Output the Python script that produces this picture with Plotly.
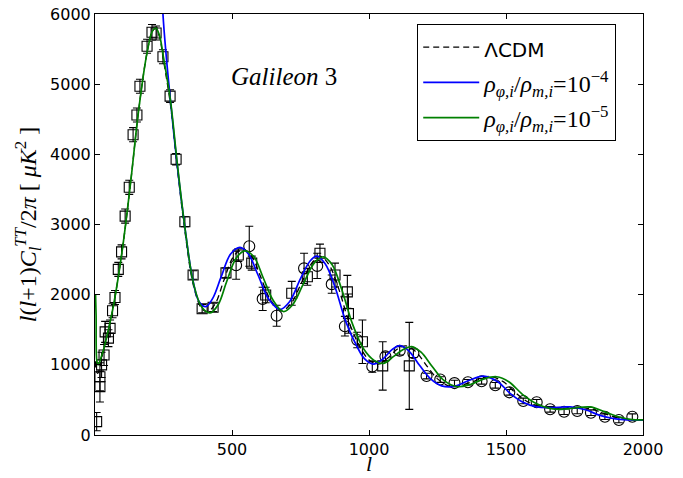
import plotly.graph_objects as go

# ---- theory curves ----
l_lcdm = [2, 5, 10, 20, 30, 50, 70, 100, 130, 160, 190, 210, 222, 235, 250, 275, 300, 330, 360, 390, 412, 440, 470, 505, 538, 570, 605, 640, 680, 715, 755, 795, 820, 852, 888, 928, 968, 1000, 1035, 1070, 1105, 1135, 1170, 1210, 1250, 1290, 1315, 1380, 1440, 1490, 1535, 1585, 1640, 1700, 1770, 1820, 1870, 1920, 1970, 2000]
d_lcdm = [1050, 900, 880, 1000, 1200, 1520, 1900, 2650, 3600, 4650, 5450, 5760, 5790, 5680, 5340, 4720, 3820, 2850, 2120, 1800, 1760, 1880, 2200, 2540, 2650, 2560, 2250, 1930, 1770, 1870, 2180, 2470, 2550, 2440, 2100, 1600, 1250, 1070, 1010, 1100, 1230, 1270, 1190, 990, 800, 700, 690, 760, 835, 760, 600, 460, 395, 380, 395, 360, 290, 235, 215, 212]

l_g4 = [200, 225, 240, 248, 260, 274, 300, 325, 355, 380, 405, 430, 460, 495, 529, 560, 595, 635, 675, 710, 750, 785, 809, 840, 875, 915, 955, 985, 1016, 1050, 1085, 1113, 1145, 1185, 1225, 1265, 1308, 1360, 1418, 1470, 1515, 1560, 1612, 1660, 1734, 1790, 1843, 1900, 1950, 2000]
d_g4 = [10500, 8200, 6800, 6000, 5400, 4820, 3850, 3050, 2250, 1900, 1830, 1950, 2250, 2580, 2675, 2580, 2280, 1930, 1790, 1900, 2230, 2480, 2550, 2440, 2120, 1620, 1270, 1080, 1010, 1080, 1220, 1273, 1200, 990, 800, 700, 690, 770, 840, 760, 593, 470, 400, 390, 400, 360, 280, 230, 215, 210]

l_g5 = [2, 4, 7, 12, 20, 30, 50, 70, 100, 130, 160, 190, 210, 222, 235, 250, 275, 300, 330, 360, 390, 420, 450, 480, 515, 547, 580, 615, 650, 687, 720, 760, 800, 833, 865, 900, 940, 980, 1020, 1052, 1090, 1125, 1156, 1190, 1230, 1270, 1320, 1370, 1420, 1466, 1510, 1560, 1610, 1660, 1700, 1750, 1807, 1860, 1910, 1960, 2000]
d_g5 = [2000, 1700, 1050, 1000, 1080, 1200, 1520, 1900, 2650, 3600, 4650, 5450, 5760, 5800, 5700, 5380, 4780, 3880, 2900, 2150, 1820, 1740, 1860, 2180, 2520, 2625, 2540, 2230, 1920, 1760, 1850, 2150, 2450, 2540, 2430, 2080, 1580, 1230, 1060, 1020, 1120, 1220, 1260, 1180, 980, 790, 690, 720, 800, 830, 760, 580, 450, 380, 366, 385, 400, 330, 260, 220, 215]

# ---- data points ----
sq_l = [6, 18, 18, 24, 33, 37, 49, 55, 64, 73, 85, 97, 110, 125, 139, 153, 164, 190, 208, 223, 248, 274, 296, 328, 358, 391, 431, 478, 523, 572, 623, 718, 775, 821, 876, 921, 925, 976, 1050, 1147]
sq_d = [190, 690, 830, 1000, 1140, 1470, 1380, 1520, 1770, 1960, 2360, 2610, 3120, 3530, 4280, 4560, 4970, 5540, 5740, 5730, 5390, 4830, 3930, 3040, 2280, 1800, 1820, 2310, 2565, 2450, 1995, 2020, 2255, 2590, 2280, 2040, 1730, 1330, 985, 985]
sq_e = [130, 220, 200, 180, 150, 150, 120, 120, 100, 100, 100, 100, 100, 100, 100, 100, 100, 100, 110, 100, 100, 90, 80, 70, 60, 60, 60, 70, 90, 100, 110, 170, 120, 130, 170, 235, 280, 310, 345, 620]

ci_l = [515, 563, 612, 663, 763, 811, 864, 912, 957, 1012, 1060, 1112, 1162, 1210, 1260, 1312, 1361, 1411, 1461, 1512, 1563, 1612, 1661, 1712, 1760, 1810, 1861, 1912, 1961]
ci_d = [2420, 2690, 1940, 1700, 2375, 2410, 2150, 1550, 1354, 975, 1120, 1200, 1165, 840, 790, 740, 752, 765, 708, 608, 485, 466, 366, 332, 342, 318, 261, 214, 261]
ci_e = [200, 285, 165, 150, 215, 180, 130, 140, 110, 80, 60, 60, 60, 40, 40, 40, 40, 40, 40, 40, 40, 40, 40, 40, 40, 40, 40, 40, 40]

fig = go.Figure()

fig.add_trace(go.Scatter(
    x=sq_l, y=sq_d, mode="markers", showlegend=False,
    marker=dict(symbol="square-open", size=10, color="black", line=dict(width=1.1)),
    error_y=dict(type="data", array=sq_e, color="black", thickness=1.1, width=4),
))
fig.add_trace(go.Scatter(
    x=ci_l, y=ci_d, mode="markers", showlegend=False,
    marker=dict(symbol="circle-open", size=11, color="black", line=dict(width=1.1)),
    error_y=dict(type="data", array=ci_e, color="black", thickness=1.1, width=4),
))
fig.add_trace(go.Scatter(
    x=l_lcdm, y=d_lcdm, mode="lines", legendgroup="a",
    name="<span style='font-family:DejaVu Sans;font-size:20px'>ΛCDM</span>",
    line=dict(color="black", width=1.3, dash="6px,4px", shape="spline", smoothing=1),
))
fig.add_trace(go.Scatter(
    x=l_g4, y=d_g4, mode="lines", legendgroup="b",
    name="<i>ρ</i><sub><i>φ,i</i></sub>/<i>ρ</i><sub><i>m,i</i></sub>=10<sup>−4</sup>",
    line=dict(color="#0000ff", width=1.7, shape="spline", smoothing=1),
))
fig.add_trace(go.Scatter(
    x=l_g5, y=d_g5, mode="lines", legendgroup="c",
    name="<i>ρ</i><sub><i>φ,i</i></sub>/<i>ρ</i><sub><i>m,i</i></sub>=10<sup>−5</sup>",
    line=dict(color="#008000", width=1.7, shape="spline", smoothing=1),
))

axis_common = dict(
    showline=True, linecolor="black", linewidth=1, mirror="ticks",
    ticks="inside", ticklen=5, tickcolor="black", showgrid=False, zeroline=False,
    automargin=False,
    tickfont=dict(family="DejaVu Sans", size=16, color="black"),
)

fig.update_xaxes(range=[0, 2000], tickvals=[500, 1000, 1500, 2000], **axis_common)
fig.update_yaxes(range=[0, 6000], tickvals=[0, 1000, 2000, 3000, 4000, 5000, 6000],
                 title=dict(text="<i>l</i>(<i>l</i>+1)<i>C</i><sub><i>l</i></sub><sup><i>TT</i></sup>/2<i>π</i> [ <i>μK</i><sup>2</sup> ]",
                            font=dict(family="Liberation Serif", size=24, color="black"), standoff=6),
                 **axis_common)

# x-axis title placed as annotation to keep it below the tick labels
fig.add_annotation(x=0.5, y=-0.102, xref="paper", yref="paper", showarrow=False,
                   xanchor="center", yanchor="bottom",
                   text="<i>l</i>", font=dict(family="Liberation Serif", size=22, color="black"))

fig.add_annotation(x=0.345, y=0.852, xref="paper", yref="paper", showarrow=False,
                   xanchor="center", yanchor="middle",
                   text="<i>Galileon</i> 3", font=dict(family="Liberation Serif", size=25, color="black"))

fig.update_layout(
    width=683, height=478,
    margin=dict(l=95, r=40, t=14, b=43),
    plot_bgcolor="white", paper_bgcolor="white",
    legend=dict(x=0.588, y=0.976, xanchor="left", yanchor="top",
                bordercolor="black", borderwidth=1, bgcolor="white",
                font=dict(family="Liberation Serif", size=24, color="black"),
                traceorder="grouped", tracegroupgap=1, itemwidth=56),
)

fig.write_html("out.html")
